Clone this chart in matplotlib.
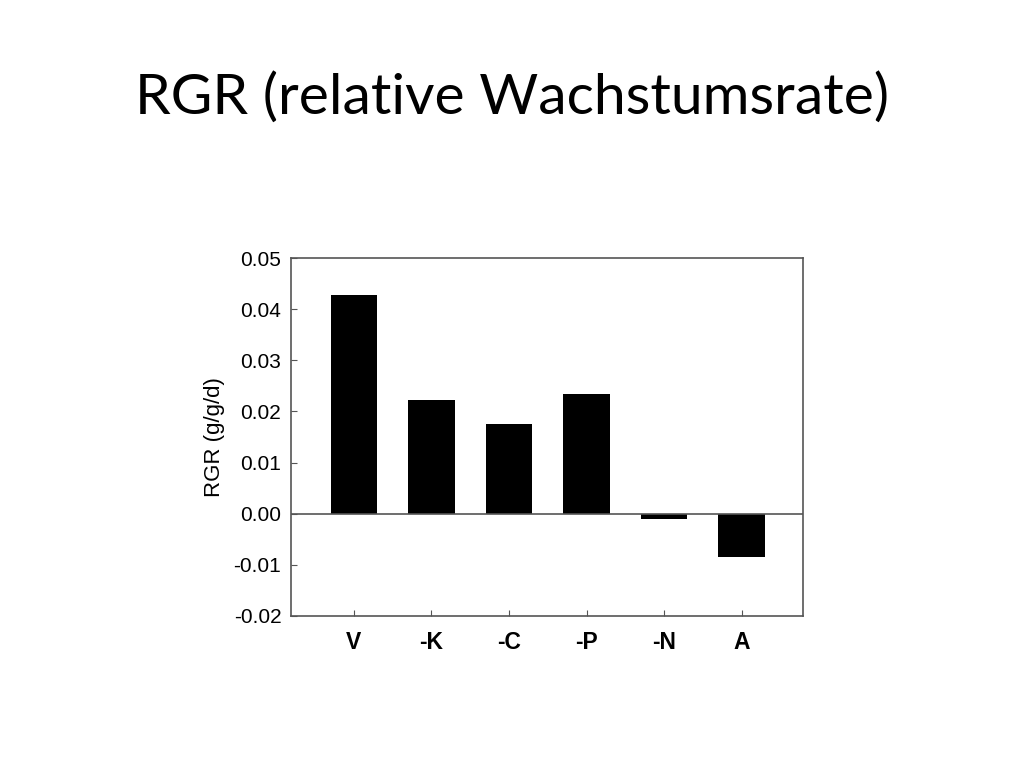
import matplotlib.pyplot as plt

categories = ["V", "-K", "-C", "-P", "-N", "A"]
rgr_values = [0.0428, 0.0223, 0.0176, 0.0235, -0.0010, -0.0084]
y_ticks = [-0.02, -0.01, 0.00, 0.01, 0.02, 0.03, 0.04, 0.05]

fig = plt.figure(figsize=(10.24, 7.68), dpi=100)
fig.text(0.5, 0.873, "RGR (relative Wachstumsrate)", ha="center", va="center",
         fontsize=41, family="Lato")

ax = fig.add_axes([0.2842, 0.198, 0.5, 0.466])
x = range(len(categories))
ax.bar(x, rgr_values, width=0.6, color="black")
ax.axhline(0, color="#555555", lw=1.2)

ax.set_xlim(-0.81, 5.79)
ax.set_ylim(-0.02, 0.05)
ax.set_yticks(y_ticks)
ax.set_yticklabels(["%.2f" % v for v in y_ticks])
ax.set_xticks(list(x))
ax.set_xticklabels(categories, fontweight="bold")
ax.tick_params(direction="in", length=4, color="#555555", labelsize=15)
ax.tick_params(axis="y", pad=7)
ax.tick_params(axis="x", pad=11, labelsize=16.5)
for lbl in ax.get_xticklabels() + ax.get_yticklabels():
    lbl.set_family("Liberation Sans")
ax.set_ylabel("RGR (g/g/d)", fontsize=16, family="Liberation Sans", labelpad=6)
for s in ax.spines.values():
    s.set_color("#555555")
    s.set_linewidth(1.2)

fig.savefig("out.png", dpi=100)
